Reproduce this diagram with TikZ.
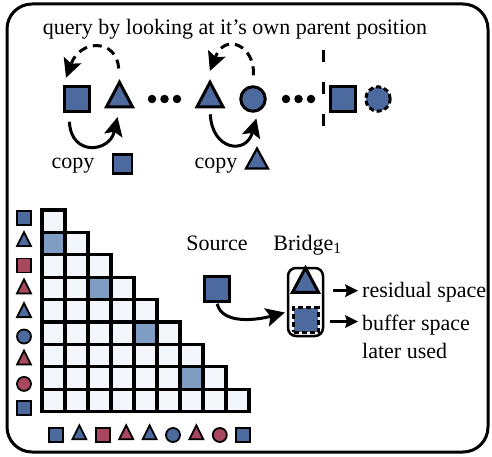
\documentclass[tikz,border=0pt]{standalone}
\usepackage{fontspec}
\setmainfont{Liberation Serif}
\usetikzlibrary{shapes.geometric,arrows.meta}
\definecolor{qblue}{RGB}{77,106,159}
\definecolor{qred}{RGB}{168,72,96}
\definecolor{cellfill}{RGB}{243,247,252}
\definecolor{cellhl}{RGB}{127,157,194}

\begin{document}
\begin{tikzpicture}[x=1pt, y=-1pt,
    every node/.style={font=\fontsize{22}{26}\selectfont},
    glyph/.style={draw, fill=qblue, line width=3pt, inner sep=0pt, minimum size=24.5pt},
    glyph sq/.style={rectangle},
    glyph tri/.style={isosceles triangle, isosceles triangle stretches, shape border rotate=90,
      minimum width=26pt, minimum height=24.5pt},
    glyph circ/.style={circle},
    small/.style={line width=1.8pt, minimum size=14pt},
    hollow/.style={dash pattern=on 5pt off 3pt},
    dot/.style={circle, fill, inner sep=0pt, minimum size=8.5pt},
    cell/.style={draw, fill=cellfill, line width=3.2pt, inner sep=0pt,
      minimum width=23pt, minimum height=22.4pt},
    cell 1-0/.style={fill=cellhl}, cell 3-2/.style={fill=cellhl},
    cell 5-4/.style={fill=cellhl}, cell 7-6/.style={fill=cellhl},
    arc/.style={line width=3pt, -{Stealth[length=19pt,width=19pt,inset=4pt,line width=0pt]}},
    query arc/.style={arc, dash pattern=on 9pt off 6pt},
    pointer/.style={line width=2.5pt, -{Stealth[length=13pt,width=13pt,inset=2pt,line width=0pt]}},
    label/.style={anchor=base, inner sep=0pt}]
        \useasboundingbox (0,0) rectangle (492,457);
        \draw [line width=3pt, rounded corners=25pt] (7,4) rectangle (488,452);
        \node [label] (title) at (235,35) {query by looking at it's own parent position};
        \node [glyph, glyph sq] (q-sq) at (77,99) {};
        \node [glyph, glyph tri] (q-tri) at (119.5,99) {};
        \node [glyph, glyph tri] (p-tri) at (210,99) {};
        \node [glyph, glyph circ] (p-circ) at (253,99) {};
        \node [glyph, glyph sq] (n-sq) at (343,99) {};
        \node [glyph, glyph circ, hollow] (n-circ) at (378,99) {};
        \foreach \x [count=\i] in {152,164.5,177,286,298.5,311}
          \node [dot] (dot-\i) at (\x,99) {};
        \coordinate (cut-top) at (323,50);
        \coordinate (cut-bot) at (323,142);
        \draw [line width=3pt, dash pattern=on 12pt off 20pt] (cut-top) -- (cut-bot);
        \draw [query arc, shorten <=10pt, shorten >=8pt] (q-tri.north)
          .. controls +(-3,-40) and +(17,-46) .. (q-sq.north west);
        \draw [query arc, shorten <=10pt, shorten >=8pt] (p-circ.north)
          .. controls +(2,-40) and +(18,-46) .. ([xshift=-3pt]p-tri.north);
        \draw [arc, shorten <=9pt, shorten >=9pt] ([xshift=-8pt]q-sq.south)
          .. controls +(2,44) and +(-10,44) .. (q-tri.south);
        \draw [arc, shorten <=6pt, shorten >=6pt] (p-tri.south)
          .. controls +(2,42) and +(-12,42) .. ([xshift=5pt]p-circ.south);
        \node [label] (copy-a) at (73,168) {copy};
        \node [glyph, glyph sq, line width=2.2pt, minimum size=19pt] (copy-sq) at (122.5,164) {};
        \node [label] (copy-b) at (216,168) {copy};
        \node [glyph, glyph tri, line width=2.2pt, minimum width=22pt, minimum height=20pt] (copy-tri) at (257,162) {};
        \foreach \r in {0,...,8}
          \foreach \c in {0,...,\r}
            \node [cell, cell \r-\c/.try] (cell-\r-\c) at (53.5+23*\c,221.2+22.4*\r) {};
        \foreach \s/\col [count=\i from 0] in {sq/qblue, tri/qblue, sq/qred, tri/qred, tri/qblue,
            circ/qblue, tri/qred, circ/qred, sq/qblue} {
          \node [glyph, glyph \s/.try, small, fill=\col] (row-\i) at (24,218+23.7*\i) {};
          \node [glyph, glyph \s/.try, small, fill=\col] (col-\i) at (56+23.4*\i,435) {};
        }
        \node [label] (source-lbl) at (217,250) {Source};
        \node [label] (bridge-lbl) at (307.5,250) {Bridge\textsubscript{1}};
        \node [glyph, glyph sq] (source) at (217,289) {};
        \node [draw, rounded corners=8pt, line width=2.5pt, minimum width=35pt, minimum height=68pt] (bridge) at (305.5,302) {};
        \node [glyph, glyph tri] (bridge-res) at (305.5,284.5) {};
        \node [glyph, glyph sq, hollow] (bridge-buf) at (306,320) {};
        \draw [arc, shorten <=1pt, shorten >=2pt] (source.south)
          .. controls +(5,22) and +(-30,8) .. ([yshift=-10pt]bridge.west);
        \node [label, anchor=base west] (res-txt) at (362,297) {residual space};
        \node [label, anchor=base west] (buf-txt) at (362,330) {buffer space};
        \node [label, anchor=base west] (later-txt) at (362,358) {later used};
        \draw [pointer] ([xshift=-29pt,yshift=1pt]res-txt.west) -- ([xshift=-4pt,yshift=1pt]res-txt.west);
        \draw [pointer] ([xshift=-32pt,yshift=3pt]buf-txt.west) -- ([xshift=-4pt,yshift=3pt]buf-txt.west);
\end{tikzpicture}
\end{document}
